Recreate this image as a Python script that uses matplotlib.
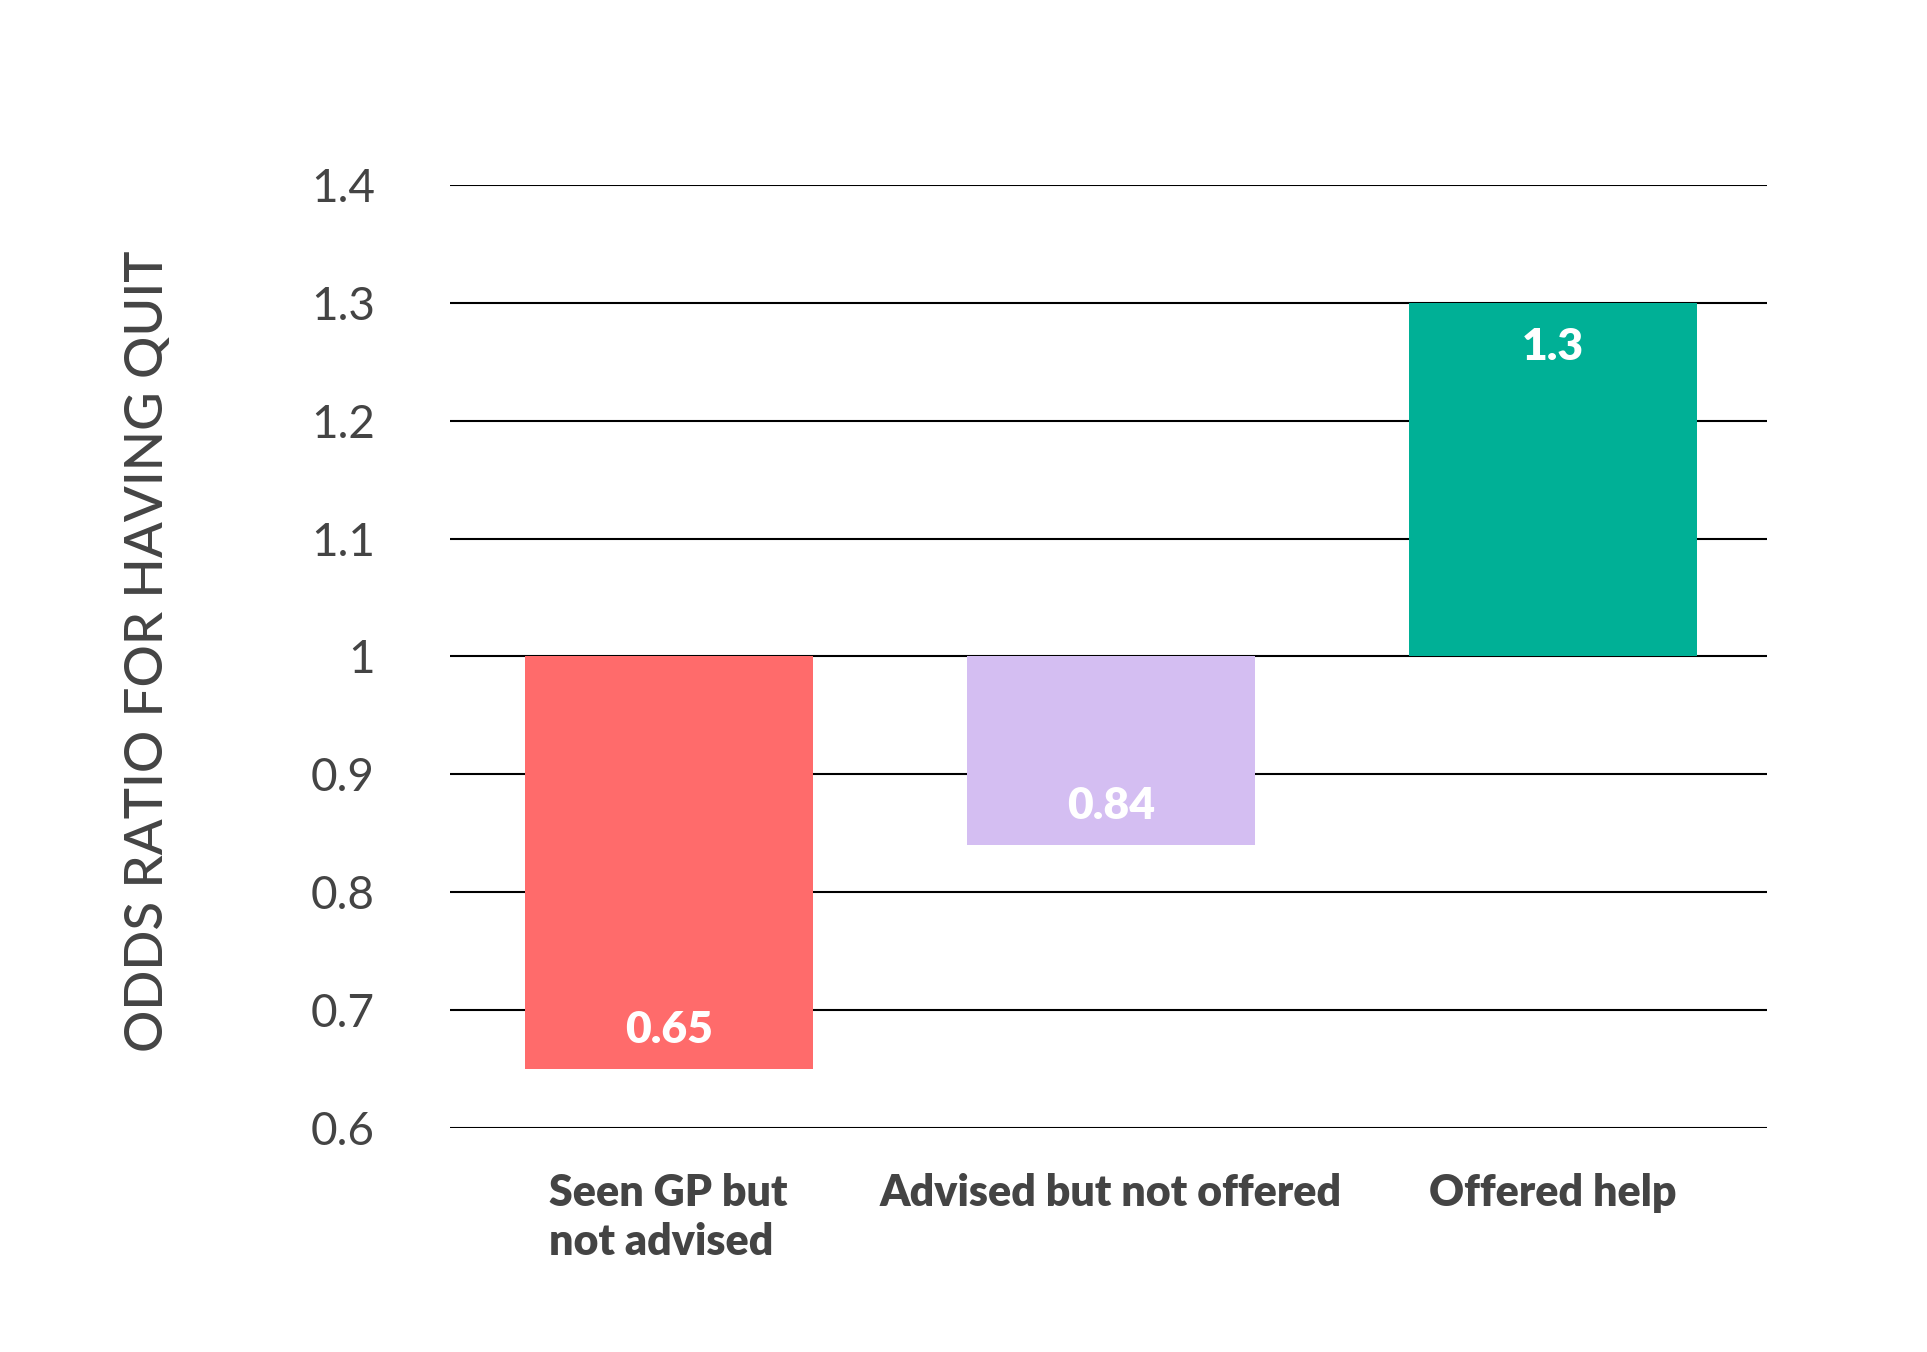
import matplotlib
matplotlib.use("Agg")
import matplotlib.pyplot as plt
from matplotlib.ticker import FuncFormatter

# Data
categories = ["Seen GP but\nnot advised", "Advised but not offered", "Offered help"]
odds_ratios = [0.65, 0.84, 1.3]
value_labels = ["0.65", "0.84", "1.3"]
bar_colors = ["#FF6B6B", "#D4BEF2", "#00B096"]
y_ticks = [0.6, 0.7, 0.8, 0.9, 1.0, 1.1, 1.2, 1.3, 1.4]
baseline = 1.0

TEXT = "#444444"
plt.rcParams["font.family"] = ["Lato", "DejaVu Sans"]

fig = plt.figure(figsize=(19.27, 13.52), dpi=100)
ax = fig.add_axes([0.2335, 0.166, 0.9172 - 0.2335, 0.863 - 0.166])

# horizontal reference lines behind the bars
for y in y_ticks:
    ax.axhline(y, color="black", linewidth=1.5, zorder=1)

xs = list(range(len(categories)))
heights = [v - baseline for v in odds_ratios]
ax.bar(xs, heights, bottom=baseline, width=0.652, color=bar_colors, zorder=2)

# value labels sit just inside the outer end of each bar
for x, v, lab in zip(xs, odds_ratios, value_labels):
    off = 28 if v < baseline else -32
    ax.annotate(lab, xy=(x, v), xytext=(0, off), textcoords="offset points",
                ha="center", va="center", color="white", fontsize=32,
                fontweight="heavy", zorder=3)

ax.set_xlim(-0.495, 2.486)
ax.set_ylim(0.6, 1.4)
ax.set_yticks(y_ticks)
ax.yaxis.set_major_formatter(FuncFormatter(lambda v, _: f"{v:g}"))
ax.tick_params(axis="y", length=0, pad=54, labelsize=33, labelcolor=TEXT)

ax.set_xticks(xs)
ax.set_xticklabels(categories)
ax.tick_params(axis="x", length=0, pad=33, labelsize=31, labelcolor=TEXT)
for t in ax.get_xticklabels():
    t.set_fontweight("heavy")
    t.set_verticalalignment("top")
    t.set_multialignment("left")
    t.set_linespacing(1.25)

for s in ax.spines.values():
    s.set_visible(False)

fig.text(0.077, 0.518, "ODDS RATIO FOR HAVING QUIT", rotation=90,
         ha="center", va="center", fontsize=38, fontweight="medium", color=TEXT)

fig.savefig("out.png", dpi=100, facecolor="white")
